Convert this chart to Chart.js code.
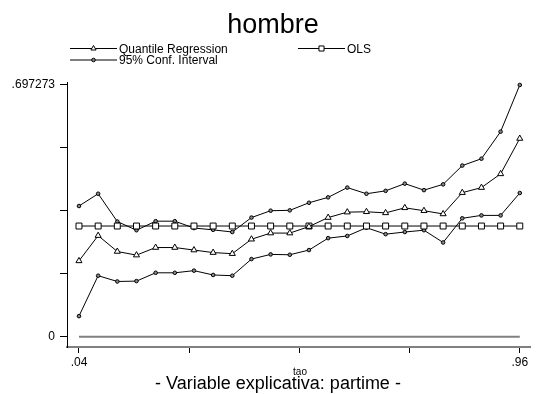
<!DOCTYPE html>
<html>
<head>
<meta charset="utf-8">
<script src="https://cdn.jsdelivr.net/npm/chart.js@4/dist/chart.umd.min.js"></script>
<style>
  html, body { margin: 0; padding: 0; background: #fff; }
  canvas { display: block; }
</style>
</head>
<body>
<canvas id="qrChart" width="536" height="394"></canvas>
<script>
// Cuantiles estimados (tao)
const tao = [0.04, 0.08, 0.12, 0.16, 0.20, 0.24, 0.28, 0.32, 0.36, 0.40, 0.44, 0.48,
             0.52, 0.56, 0.60, 0.64, 0.68, 0.72, 0.76, 0.80, 0.84, 0.88, 0.92, 0.96];

// Coeficiente de partime por cuantil
const qrCoef = [0.210, 0.280, 0.236, 0.226, 0.247, 0.247, 0.240, 0.233, 0.230, 0.270, 0.287, 0.287,
                0.305, 0.330, 0.345, 0.346, 0.343, 0.357, 0.349, 0.340, 0.399, 0.413, 0.451, 0.549];

// Intervalo de confianza al 95%
const ciUpper = [0.362, 0.396, 0.319, 0.295, 0.320, 0.320, 0.301, 0.296, 0.290, 0.330, 0.349, 0.350,
                 0.371, 0.386, 0.413, 0.396, 0.404, 0.424, 0.406, 0.422, 0.474, 0.493, 0.568, 0.697273];
const ciLower = [0.057, 0.169, 0.153, 0.154, 0.177, 0.177, 0.183, 0.171, 0.169, 0.215, 0.228, 0.227,
                 0.240, 0.273, 0.279, 0.302, 0.284, 0.290, 0.295, 0.261, 0.328, 0.336, 0.336, 0.398];

// Estimación MCO (constante en todos los cuantiles)
const olsCoef = [0.3066, 0.3066, 0.3066, 0.3066, 0.3066, 0.3066, 0.3066, 0.3066, 0.3066, 0.3066, 0.3066, 0.3066,
                 0.3066, 0.3066, 0.3066, 0.3066, 0.3066, 0.3066, 0.3066, 0.3066, 0.3066, 0.3066, 0.3066, 0.3066];

// Línea de referencia en cero
const zeroLine = [0, 0];

// Ticks de los ejes
const yTicks = [0, 0.174318, 0.348637, 0.522955, 0.697273];
const yTickLabels = ['0', '', '', '', '.697273'];
const xTicks = [0.04, 0.27, 0.50, 0.73, 0.96];
const xTickLabels = ['.04', '', '', '', '.96'];

const FONT = "'Liberation Sans', Arial, sans-serif";

const pts = (ys) => ys.map((y, i) => ({ x: tao[i], y: y }));

const lineStyle = {
    borderColor: '#000',
    borderWidth: 1,
    tension: 0,
    fill: false,
    pointBorderColor: '#000',
    pointBorderWidth: 1
};

// Título, leyenda y subtítulo dibujados sobre el canvas
const decorations = {
    id: 'decorations',
    afterDraw(chart) {
        const ctx = chart.ctx;
        ctx.save();
        ctx.fillStyle = '#000';
        ctx.textBaseline = 'alphabetic';

        ctx.font = '27px ' + FONT;
        ctx.textAlign = 'center';
        ctx.fillText('hombre', 273, 33);

        const entries = [
            { x: 70, y: 48.5, style: 'triangle', r: 3, fill: '#fff', text: 'Quantile Regression' },
            { x: 298, y: 48.5, style: 'rect', r: 3.6, fill: '#fff', text: 'OLS' },
            { x: 70, y: 60, style: 'circle', r: 1.8, fill: '#888', text: '95% Conf. Interval' }
        ];
        ctx.font = '12px ' + FONT;
        ctx.textAlign = 'left';
        entries.forEach(e => {
            ctx.strokeStyle = '#000';
            ctx.lineWidth = 1;
            ctx.beginPath();
            ctx.moveTo(e.x, e.y);
            ctx.lineTo(e.x + 47, e.y);
            ctx.stroke();
            ctx.fillStyle = e.fill;
            Chart.helpers.drawPoint(ctx, { pointStyle: e.style, radius: e.r, borderWidth: 1, rotation: 0 }, e.x + 23.5, e.y);
            ctx.fillStyle = '#000';
            ctx.fillText(e.text, e.x + 49, e.y + 4);
        });

        ctx.font = '10px ' + FONT;
        ctx.textAlign = 'center';
        ctx.fillText('tao', 300, 375);

        ctx.font = '18px ' + FONT;
        ctx.fillText('- Variable explicativa: partime -', 278, 389);
        ctx.restore();
    }
};

new Chart(document.getElementById('qrChart'), {
    type: 'line',
    data: {
        datasets: [
            {
                label: 'Quantile Regression',
                data: pts(qrCoef),
                ...lineStyle,
                pointStyle: 'triangle',
                pointRadius: 3.5,
                pointBackgroundColor: '#fff'
            },
            {
                label: 'OLS',
                data: pts(olsCoef),
                ...lineStyle,
                pointStyle: 'rect',
                pointRadius: 4.2,
                pointBackgroundColor: '#fff'
            },
            {
                label: '95% Conf. Interval',
                data: pts(ciUpper),
                ...lineStyle,
                pointStyle: 'circle',
                pointRadius: 1.8,
                pointBackgroundColor: '#888'
            },
            {
                label: '95% Conf. Interval (inf.)',
                data: pts(ciLower),
                ...lineStyle,
                pointStyle: 'circle',
                pointRadius: 1.8,
                pointBackgroundColor: '#888'
            },
            {
                label: 'cero',
                data: [{ x: tao[0], y: zeroLine[0] }, { x: tao[tao.length - 1], y: zeroLine[1] }],
                borderColor: '#808080',
                borderWidth: 2,
                pointRadius: 0,
                fill: false
            }
        ]
    },
    options: {
        responsive: false,
        animation: false,
        devicePixelRatio: 1,
        clip: false,
        layout: { padding: { top: 82, left: 0, right: 1, bottom: 0 } },
        plugins: {
            legend: { display: false },
            title: { display: false },
            tooltip: { enabled: false }
        },
        events: [],
        scales: {
            x: {
                type: 'linear',
                min: 0.015,
                max: 0.983,
                afterBuildTicks: (s) => { s.ticks = xTicks.map(v => ({ value: v })); },
                afterFit: (s) => { s.height = 47; },
                ticks: {
                    autoSkip: false,
                    maxRotation: 0,
                    padding: 2,
                    color: '#000',
                    font: { family: FONT, size: 12 },
                    callback: (v, i) => xTickLabels[i]
                },
                grid: { drawOnChartArea: false, drawTicks: true, tickLength: 6, tickColor: '#000' },
                border: { color: '#808080', width: 2 }
            },
            y: {
                type: 'linear',
                min: -0.0285,
                max: 0.7055,
                afterBuildTicks: (s) => { s.ticks = yTicks.map(v => ({ value: v })); },
                afterFit: (s) => { s.width = 67; },
                ticks: {
                    autoSkip: false,
                    padding: 5,
                    color: '#000',
                    font: { family: FONT, size: 12 },
                    callback: (v, i) => yTickLabels[i]
                },
                grid: { drawOnChartArea: false, drawTicks: true, tickLength: 7, tickColor: '#000' },
                border: { color: '#000', width: 1 }
            }
        }
    },
    plugins: [decorations]
});
</script>
</body>
</html>
